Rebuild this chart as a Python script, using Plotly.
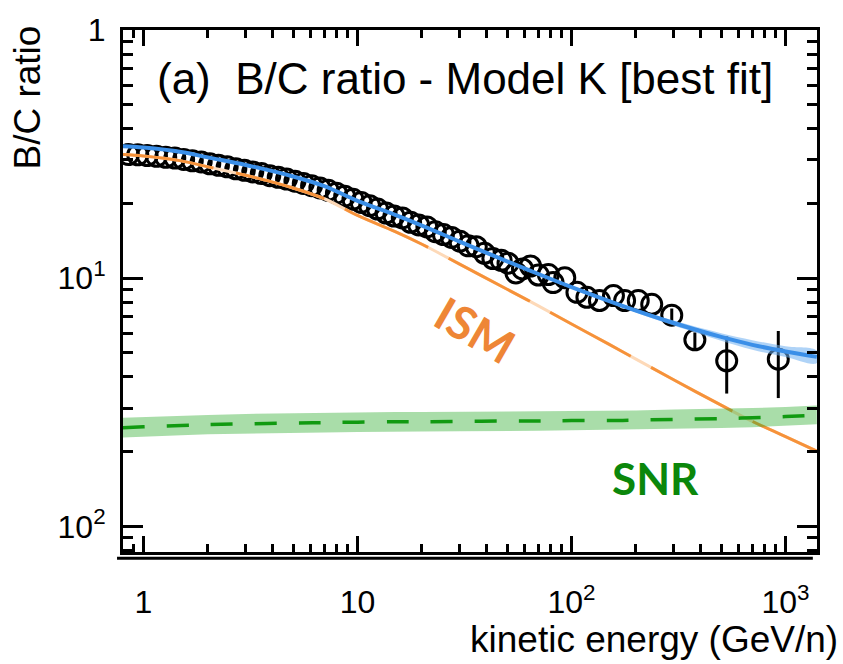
import plotly.graph_objects as go

# ---------------- data ----------------
model_x = [0.8, 1, 1.5, 2, 3, 5, 7, 10, 15, 20, 30, 50, 70, 100, 150, 200, 300, 500, 700, 1000, 1400]
ism = [0.315, 0.311, 0.297, 0.281, 0.260, 0.231, 0.209, 0.179, 0.154, 0.137, 0.114, 0.0903,
       0.0774, 0.0654, 0.0541, 0.0472, 0.0390, 0.0308, 0.0265, 0.0230, 0.0201]
snr = [0.0250, 0.0252, 0.0255, 0.0257, 0.0259, 0.0261, 0.0262, 0.0263, 0.0264, 0.0264, 0.0265,
       0.0266, 0.0266, 0.0267, 0.0267, 0.0268, 0.0270, 0.0272, 0.0274, 0.0277, 0.0281]
snr_lo = [0.0228, 0.0230, 0.0233, 0.0235, 0.0237, 0.0238, 0.0239, 0.0240, 0.0241, 0.0241, 0.0242,
          0.0243, 0.0243, 0.0244, 0.0244, 0.0245, 0.0247, 0.0249, 0.0251, 0.0254, 0.0258]
snr_hi = [0.0274, 0.0276, 0.0279, 0.0281, 0.0284, 0.0286, 0.0287, 0.0288, 0.0289, 0.0289, 0.0290,
          0.0291, 0.0291, 0.0292, 0.0292, 0.0293, 0.0296, 0.0298, 0.0300, 0.0303, 0.0307]
total = [0.340, 0.336, 0.3225, 0.3067, 0.286, 0.257, 0.235, 0.205, 0.180, 0.163, 0.1405, 0.117,
         0.104, 0.0921, 0.0808, 0.0740, 0.0660, 0.0580, 0.0539, 0.0507, 0.0482]
total_lo = [0.339, 0.335, 0.3215, 0.3057, 0.285, 0.256, 0.234, 0.204, 0.179, 0.162, 0.1398, 0.1164,
            0.1034, 0.0915, 0.0800, 0.0728, 0.0645, 0.0560, 0.0515, 0.0482, 0.0455]
total_hi = [0.341, 0.337, 0.3235, 0.3077, 0.287, 0.258, 0.236, 0.206, 0.181, 0.164, 0.1412, 0.1176,
            0.1046, 0.0927, 0.0816, 0.0752, 0.0675, 0.0600, 0.0563, 0.0532, 0.0510]

data_x = [0.85, 0.94, 1.04, 1.15, 1.27, 1.40, 1.54, 1.69, 1.86, 2.04, 2.24, 2.46, 2.70, 2.96, 3.24,
          3.55, 3.89, 4.26, 4.66, 5.10, 5.58, 6.10, 6.67, 7.29, 7.97, 8.71, 9.52, 10.4, 11.4, 12.4,
          13.6, 14.8, 16.2, 17.7, 19.3, 21.1, 23.1, 25.2, 27.5, 30.1, 32.9, 35.9, 39.2, 42.9, 46.9,
          50.5, 55, 59, 64.3, 70, 78, 82, 93, 106, 118, 135, 157, 177, 205, 237]
data_y = [0.315, 0.314, 0.312, 0.310, 0.307, 0.305, 0.301, 0.297, 0.294, 0.289, 0.285, 0.281, 0.276,
          0.272, 0.268, 0.264, 0.259, 0.255, 0.251, 0.246, 0.241, 0.236, 0.231, 0.226, 0.220, 0.214,
          0.208, 0.202, 0.196, 0.190, 0.183, 0.178, 0.175, 0.168, 0.164, 0.161, 0.154, 0.150, 0.146,
          0.141, 0.135, 0.134, 0.126, 0.120, 0.118, 0.115, 0.105, 0.109, 0.112, 0.103, 0.1035, 0.096,
          0.1005, 0.0877, 0.0838, 0.0813, 0.0851, 0.0813, 0.0813, 0.0785]
hi_x = [294, 377, 531, 925]
hi_y = [0.071, 0.0565, 0.0465, 0.0472]
hi_err_plus = [0.0045, 0.0040, 0.0118, 0.0141]
hi_err_minus = [0.0065, 0.0056, 0.0122, 0.0143]

x_tickvals = [1, 10, 100, 1000]
x_ticktext = ["1", "10", "10<sup>2</sup>", "10<sup>3</sup>"]
x_minor = [0.9, 2, 3, 4, 5, 6, 7, 8, 9, 20, 30, 40, 50, 60, 70, 80, 90,
           200, 300, 400, 500, 600, 700, 800, 900]
y_tickvals = [0.01, 0.1, 1]
y_ticktext = ["10<sup>2</sup>", "10<sup>1</sup>", "1"]
y_minor = [0.008, 0.009, 0.02, 0.03, 0.04, 0.05, 0.06, 0.07, 0.08, 0.09,
           0.2, 0.3, 0.4, 0.5, 0.6, 0.7, 0.8, 0.9]

FONT = "Liberation Sans, Arial, Helvetica, sans-serif"
ORANGE = "#f6923a"
PEACH = "#fdd9b8"
BLUE = "#3b8fe8"
GREEN = "#119a11"

fig = go.Figure()

# data
fig.add_trace(go.Scatter(x=data_x, y=data_y, mode="markers",
                         marker=dict(symbol="circle-open", size=20, color="black", line=dict(width=3)),
                         showlegend=False))
fig.add_trace(go.Scatter(x=hi_x, y=hi_y, mode="markers",
                         marker=dict(symbol="circle-open", size=20, color="black", line=dict(width=3)),
                         error_y=dict(type="data", array=hi_err_plus, arrayminus=hi_err_minus,
                                      color="black", thickness=3, width=0),
                         showlegend=False))
# ISM (peach base with orange dashes)
fig.add_trace(go.Scatter(x=model_x, y=ism, mode="lines", line=dict(color=PEACH, width=3, shape="spline"),
                         showlegend=False, hoverinfo="skip"))
fig.add_trace(go.Scatter(x=model_x, y=ism, mode="lines",
                         line=dict(color=ORANGE, width=3, dash="92px,23px", shape="spline"),
                         showlegend=False))
# SNR band and dashed line
fig.add_trace(go.Scatter(x=model_x + model_x[::-1], y=snr_hi + snr_lo[::-1], fill="toself",
                         fillcolor="rgba(40,170,40,0.4)", line=dict(width=0), mode="lines",
                         showlegend=False, hoverinfo="skip"))
fig.add_trace(go.Scatter(x=model_x, y=snr, mode="lines",
                         line=dict(color=GREEN, width=3.5, dash="22px,22px", shape="spline"),
                         showlegend=False))
# Total band and line
fig.add_trace(go.Scatter(x=model_x + model_x[::-1], y=total_hi + total_lo[::-1], fill="toself",
                         fillcolor="rgba(110,175,240,0.55)", line=dict(width=0, shape="spline"), mode="lines",
                         showlegend=False, hoverinfo="skip"))
fig.add_trace(go.Scatter(x=model_x, y=total, mode="lines", line=dict(color=BLUE, width=4, shape="spline"),
                         showlegend=False))

fig.update_layout(
    width=843, height=664,
    margin=dict(l=123, r=26, t=19, b=112),
    paper_bgcolor="white", plot_bgcolor="white",
    font=dict(family=FONT, color="black"),
    xaxis=dict(type="log", range=[-0.0958, 3.147], showgrid=False, zeroline=False,
               showline=True, linecolor="black", linewidth=3, mirror="allticks",
               ticks="inside", ticklen=16, tickwidth=2.5, tickcolor="black",
               tickvals=x_tickvals, ticktext=x_ticktext, tickfont=dict(size=32, family=FONT),
               ticklabelstandoff=20,
               minor=dict(tickvals=x_minor, ticks="inside", ticklen=8, tickwidth=2.5,
                          tickcolor="black", showgrid=False)),
    yaxis=dict(type="log", range=[-2.103, 0], showgrid=False, zeroline=False,
               showline=True, linecolor="black", linewidth=3, mirror="allticks",
               ticks="inside", ticklen=20, tickwidth=2.5, tickcolor="black",
               tickvals=y_tickvals, ticktext=y_ticktext, tickfont=dict(size=32, family=FONT),
               ticklabelstandoff=8,
               minor=dict(tickvals=y_minor, ticks="inside", ticklen=10, tickwidth=2.5,
                          tickcolor="black", showgrid=False)),
    shapes=[dict(type="line", xref="paper", yref="paper", x0=-0.0086, x1=0.994, y0=-0.0122, y1=-0.0122,
                 line=dict(color="black", width=3))],
    annotations=[
        dict(text="(a)\u00a0 B/C ratio - Model K [best fit]", xref="paper", yref="paper",
             x=0.046, y=0.908, xanchor="left", yanchor="middle", showarrow=False,
             font=dict(size=44, family=FONT)),
        dict(text="B/C ratio", xref="paper", yref="paper", x=-0.138, y=1.0128, xanchor="center",
             yanchor="top", textangle=-90, showarrow=False, font=dict(size=37, family=FONT)),
        dict(text="kinetic energy (GeV/n)", xref="paper", yref="paper", x=1.033, y=-0.167,
             xanchor="right", yanchor="middle", showarrow=False, font=dict(size=37, family=FONT)),
        dict(text="<b>ISM</b>", xref="paper", yref="paper", x=0.507, y=0.4257, xanchor="center",
             yanchor="middle", textangle=30, showarrow=False,
             font=dict(size=46, family="Lato, Open Sans, sans-serif", color="#ee8636")),
        dict(text="<b>SNR</b>", xref="paper", yref="paper", x=0.7666, y=0.1425, xanchor="center",
             yanchor="middle", showarrow=False,
             font=dict(size=44, family="Lato, Open Sans, sans-serif", color="#0b870b")),
    ],
)

fig.write_html("out.html")
